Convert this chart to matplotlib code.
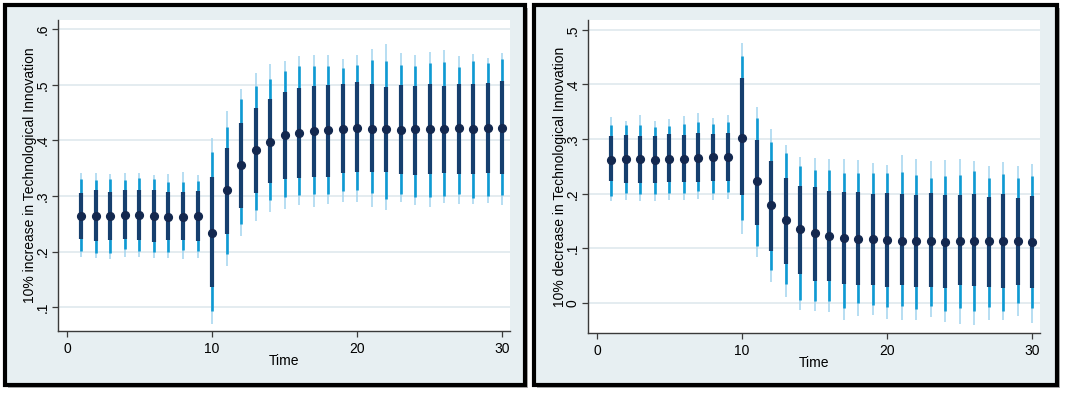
import matplotlib
matplotlib.use("Agg")
import matplotlib.pyplot as plt
from matplotlib.patches import Rectangle

plt.rcParams["font.family"] = ["Liberation Sans", "DejaVu Sans"]

# ---- data (impulse responses with 68/90/95% bands) ----
time = list(range(1, 31))

inc_point = [0.264, 0.264, 0.264, 0.266, 0.265, 0.264, 0.263, 0.263, 0.264, 0.233,
             0.310, 0.355, 0.383, 0.398, 0.409, 0.414, 0.417, 0.419, 0.420, 0.423,
             0.421, 0.420, 0.419, 0.420, 0.421, 0.421, 0.422, 0.421, 0.422, 0.422]
inc_lo68 = [0.222, 0.219, 0.220, 0.222, 0.220, 0.217, 0.220, 0.221, 0.219, 0.136,
            0.231, 0.278, 0.306, 0.323, 0.330, 0.332, 0.334, 0.335, 0.341, 0.343,
            0.343, 0.343, 0.340, 0.337, 0.340, 0.341, 0.340, 0.340, 0.341, 0.340]
inc_hi68 = [0.306, 0.310, 0.308, 0.311, 0.310, 0.311, 0.308, 0.308, 0.309, 0.335,
            0.387, 0.431, 0.458, 0.475, 0.487, 0.495, 0.497, 0.499, 0.501, 0.505,
            0.501, 0.496, 0.499, 0.498, 0.501, 0.498, 0.502, 0.501, 0.504, 0.507]
inc_lo90 = [0.201, 0.198, 0.198, 0.204, 0.201, 0.199, 0.199, 0.203, 0.201, 0.094,
            0.196, 0.249, 0.274, 0.292, 0.298, 0.301, 0.304, 0.304, 0.309, 0.310,
            0.305, 0.295, 0.304, 0.298, 0.299, 0.300, 0.304, 0.297, 0.300, 0.301]
inc_hi90 = [0.331, 0.329, 0.331, 0.328, 0.333, 0.330, 0.326, 0.326, 0.327, 0.379,
            0.424, 0.474, 0.498, 0.511, 0.524, 0.533, 0.533, 0.533, 0.530, 0.535,
            0.544, 0.543, 0.535, 0.533, 0.539, 0.541, 0.532, 0.543, 0.540, 0.546]
inc_lo95 = [0.190, 0.188, 0.186, 0.190, 0.191, 0.188, 0.189, 0.187, 0.189, 0.070,
            0.175, 0.228, 0.255, 0.272, 0.277, 0.283, 0.280, 0.285, 0.289, 0.290,
            0.280, 0.274, 0.289, 0.284, 0.281, 0.287, 0.286, 0.285, 0.287, 0.283]
inc_hi95 = [0.342, 0.342, 0.339, 0.342, 0.342, 0.338, 0.339, 0.344, 0.338, 0.405,
            0.453, 0.493, 0.522, 0.537, 0.542, 0.551, 0.554, 0.553, 0.547, 0.554,
            0.565, 0.573, 0.557, 0.553, 0.559, 0.563, 0.552, 0.555, 0.549, 0.558]

dec_point = [0.261, 0.263, 0.263, 0.261, 0.263, 0.263, 0.266, 0.267, 0.268, 0.302,
             0.223, 0.179, 0.151, 0.136, 0.128, 0.123, 0.119, 0.117, 0.117, 0.115,
             0.114, 0.113, 0.113, 0.111, 0.114, 0.114, 0.113, 0.113, 0.113, 0.111]
dec_lo68 = [0.223, 0.220, 0.219, 0.219, 0.222, 0.222, 0.222, 0.223, 0.223, 0.197,
            0.142, 0.096, 0.072, 0.053, 0.041, 0.040, 0.034, 0.033, 0.033, 0.029,
            0.032, 0.029, 0.029, 0.027, 0.033, 0.031, 0.029, 0.027, 0.032, 0.027]
dec_hi68 = [0.306, 0.307, 0.306, 0.305, 0.309, 0.307, 0.312, 0.310, 0.312, 0.412,
            0.298, 0.259, 0.229, 0.215, 0.213, 0.205, 0.204, 0.204, 0.199, 0.201,
            0.199, 0.197, 0.202, 0.198, 0.198, 0.200, 0.194, 0.200, 0.192, 0.195]
dec_lo90 = [0.196, 0.202, 0.199, 0.199, 0.202, 0.201, 0.205, 0.202, 0.203, 0.151,
            0.105, 0.060, 0.035, 0.006, 0.004, 0.004, -0.010, 0.000, -0.004, -0.008,
            -0.005, -0.011, -0.005, -0.014, -0.010, -0.014, -0.008, -0.014, 0.000, -0.010]
dec_hi90 = [0.326, 0.326, 0.326, 0.323, 0.324, 0.328, 0.331, 0.328, 0.331, 0.453,
            0.338, 0.295, 0.275, 0.250, 0.243, 0.244, 0.237, 0.238, 0.238, 0.237,
            0.240, 0.234, 0.229, 0.232, 0.234, 0.241, 0.229, 0.236, 0.228, 0.232]
dec_lo95 = [0.186, 0.189, 0.186, 0.186, 0.189, 0.188, 0.190, 0.189, 0.190, 0.126,
            0.085, 0.038, 0.011, -0.013, -0.015, -0.017, -0.031, -0.023, -0.022, -0.029,
            -0.031, -0.032, -0.026, -0.034, -0.039, -0.040, -0.031, -0.032, -0.023, -0.036]
dec_hi95 = [0.340, 0.334, 0.345, 0.334, 0.337, 0.342, 0.347, 0.339, 0.344, 0.476,
            0.358, 0.319, 0.290, 0.268, 0.265, 0.263, 0.264, 0.261, 0.256, 0.252,
            0.270, 0.264, 0.259, 0.261, 0.264, 0.259, 0.251, 0.258, 0.250, 0.254]

x_ticks = [0, 10, 20, 30]
inc_yticks = [0.1, 0.2, 0.3, 0.4, 0.5, 0.6]
inc_yticklabels = [".1", ".2", ".3", ".4", ".5", ".6"]
dec_yticks = [0.0, 0.1, 0.2, 0.3, 0.4, 0.5]
dec_yticklabels = ["0", ".1", ".2", ".3", ".4", ".5"]

# ---- styling ----
PANEL_BG = "#e7eff2"
GRID = "#dfe9ed"
C95 = "#a3d5ef"
C90 = "#0f9ad3"
C68 = "#163f6e"
CPT = "#13284f"
AXIS = "#3a3a3a"

W, H = 1065, 396
fig = plt.figure(figsize=(W / 100, H / 100), dpi=100)


def px_rect(x0, y0, x1, y1, **kw):
    """Rectangle given in pixel coords (top-left origin)."""
    return Rectangle((x0 / W, 1 - y1 / H), (x1 - x0) / W, (y1 - y0) / H,
                     transform=fig.transFigure, **kw)


def px_axes(x0, y0, x1, y1):
    return fig.add_axes([x0 / W, 1 - y1 / H, (x1 - x0) / W, (y1 - y0) / H])


def panel(box, axbox, ylim, point, lo68, hi68, lo90, hi90, lo95, hi95,
          yticks, yticklabels, ylabel):
    x0, y0, x1, y1 = box
    fig.add_artist(px_rect(x0 + 3, y0 + 3, x1 + 3, y1 + 3,
                           facecolor="#b0b0b0", edgecolor="none", zorder=-3))
    fig.add_artist(px_rect(x0, y0, x1, y1, facecolor=PANEL_BG,
                           edgecolor="black", linewidth=3.0, zorder=-2))

    ax = px_axes(*axbox)
    ax.set_facecolor("white")
    ax.vlines(time, lo95, hi95, color=C95, linewidth=1.1, zorder=2)
    ax.vlines(time, lo90, hi90, color=C90, linewidth=1.9, zorder=3)
    ax.vlines(time, lo68, hi68, color=C68, linewidth=3.0, zorder=4)
    ax.plot(time, point, "o", color=CPT, markersize=5.6, zorder=5)

    ax.set_xlim(-0.62, 30.55)
    ax.set_ylim(*ylim)
    ax.set_xticks(x_ticks)
    ax.set_yticks(yticks, labels=yticklabels)
    ax.grid(axis="y", color=GRID, linewidth=1.2, zorder=0)
    ax.set_axisbelow(True)
    for s in ("top", "right"):
        ax.spines[s].set_visible(False)
    for s in ("left", "bottom"):
        ax.spines[s].set_color(AXIS)
        ax.spines[s].set_linewidth(1.0)
    ax.tick_params(axis="both", colors=AXIS, length=4, width=0.9,
                   labelsize=10, labelcolor="black")
    ax.tick_params(axis="y", labelrotation=90, pad=2)
    ax.tick_params(axis="x", pad=4)
    for lab in ax.get_yticklabels():
        lab.set_va("center")

    # axis titles placed in pixel terms relative to the plot area
    pw = axbox[2] - axbox[0]
    ph = axbox[3] - axbox[1]
    ax.set_xlabel("Time", fontsize=10)
    ax.xaxis.set_label_coords(0.5, -23 / ph)
    ax.set_ylabel(ylabel, fontsize=10)
    ax.yaxis.set_label_coords(-21 / pw, 0.5)
    return ax


panel((5, 5, 525, 385), (58, 20, 510, 331), (0.0572, 0.6166),
      inc_point, inc_lo68, inc_hi68, inc_lo90, inc_hi90, inc_lo95, inc_hi95,
      inc_yticks, inc_yticklabels, "10% increase in Technological Innovation")

panel((534, 5, 1057, 385), (588, 20, 1040, 333), (-0.055, 0.518),
      dec_point, dec_lo68, dec_hi68, dec_lo90, dec_hi90, dec_lo95, dec_hi95,
      dec_yticks, dec_yticklabels, "10% decrease in Technological Innovation")

fig.savefig("out.png", dpi=100, facecolor="white")
